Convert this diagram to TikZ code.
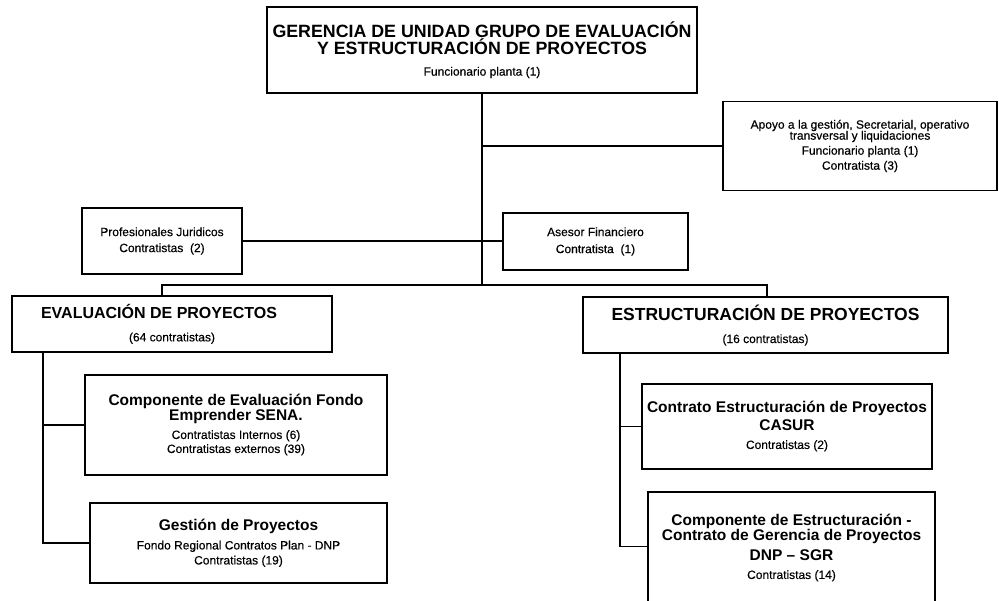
\documentclass[tikz,border=0pt]{standalone}
\usepackage{fontspec}
\setmainfont{Liberation Sans}
\newfontfamily\smfont[FakeBold=0.4]{Liberation Sans}
\newcommand{\tit}{\fontsize{17.8}{14}\selectfont\bfseries}
\newcommand{\hd}{\fontsize{16}{14}\selectfont\bfseries}
\newcommand{\hdl}{\fontsize{17.5}{14}\selectfont\bfseries}
\newcommand{\bx}{\fontsize{15.5}{14}\selectfont\bfseries}
\newcommand{\sm}{\smfont\fontsize{12}{14}\selectfont}

\begin{document}
\begin{tikzpicture}[x=1pt, y=-1pt]
    \tikzset{box/.style={draw, line width=1.4pt, align=center, inner sep=0pt,
        execute at begin node={\lineskiplimit=-100pt}},
      link/.style={line width=1.4pt}}
    \useasboundingbox (0,0) rectangle (999,601);

    % Top box and staff boxes
    \node[box, minimum width=430pt, minimum height=86pt] (ger) at (482,50)
        {\tit GERENCIA DE UNIDAD GRUPO DE EVALUACIÓN\\[5pt] \tit Y ESTRUCTURACIÓN DE PROYECTOS\\[9pt] \sm Funcionario planta (1)};
    \node[box, minimum width=274pt, minimum height=89pt] (apoyo) at (860,146)
        {\sm Apoyo a la gestión, Secretarial, operativo\\[-1pt] \sm transversal y liquidaciones\\[3pt] \sm Funcionario planta (1)\\[3pt] \sm Contratista (3)};
    \node[box, minimum width=160pt, minimum height=66pt] (jur) at (162,241)
        {\sm Profesionales Juridicos\\[4pt] \sm Contratistas\ \ (2)};
    \node[box, minimum width=185pt, minimum height=57pt] (asesor) at (595.5,241.5)
        {\sm Asesor Financiero\\[5pt] \sm Contratista\ \ (1)};

    % The two areas
    \node[box, minimum width=320pt, minimum height=56pt] (eval) at (172,324)
        {\hd EVALUACIÓN DE PROYECTOS\hspace*{26pt}\\[11pt] \sm (64 contratistas)};
    \node[box, minimum width=365pt, minimum height=56pt] (estr) at (765.5,325)
        {\hdl ESTRUCTURACIÓN DE PROYECTOS\\[11pt] \sm (16 contratistas)};

    % Evaluacion subtree
    \node[box, minimum width=302pt, minimum height=100pt] (eval_1) at (236,425)
        {\bx Componente de Evaluación Fondo\\[3pt] \bx Emprender SENA.\\[6pt] \sm Contratistas Internos (6)\\[2pt] \sm Contratistas externos (39)};
    \node[box, minimum width=297pt, minimum height=80pt] (eval_2) at (238.5,543)
        {\bx Gestión de Proyectos\\[7pt] \sm Fondo Regional Contratos Plan - DNP\\[3pt] \sm Contratistas (19)};

    % Estructuracion subtree
    \node[box, minimum width=290pt, minimum height=85pt] (estr_1) at (787,426.5)
        {\bx Contrato Estructuración de Proyectos\\[6pt] \bx CASUR\\[6pt] \sm Contratistas (2)};
    \node[box, minimum width=287pt, minimum height=112pt] (estr_2) at (791.5,548)
        {\bx Componente de Estructuración -\\[3pt] \bx Contrato de Gerencia de Proyectos\\[8pt] \bx DNP -- SGR\\[6pt] \sm Contratistas (14)};

    % Connectors
    \coordinate (bus) at (482,285);
    \coordinate (eval_top) at (162,296);
    \coordinate (estr_top) at (767,297);
    \coordinate (eval_spine) at (43,352);
    \coordinate (estr_spine) at (620,353);
    \draw[link] (ger.south) -- (bus);
    \draw[link] (ger.south |- apoyo.west) -- (apoyo.west);
    \draw[link] (jur.east) -- (jur.east -| asesor.west);
    \draw[link] (eval_top) |- (bus) -| (estr_top);
    \draw[link] (eval_spine) |- (eval_1.west);
    \draw[link] (eval_spine) |- (eval_2.west);
    \draw[link] (estr_spine) |- (estr_1.west);
    \draw[link] (estr_spine) |- ([yshift=-55pt]estr_2.north west);

\end{tikzpicture}
\end{document}
